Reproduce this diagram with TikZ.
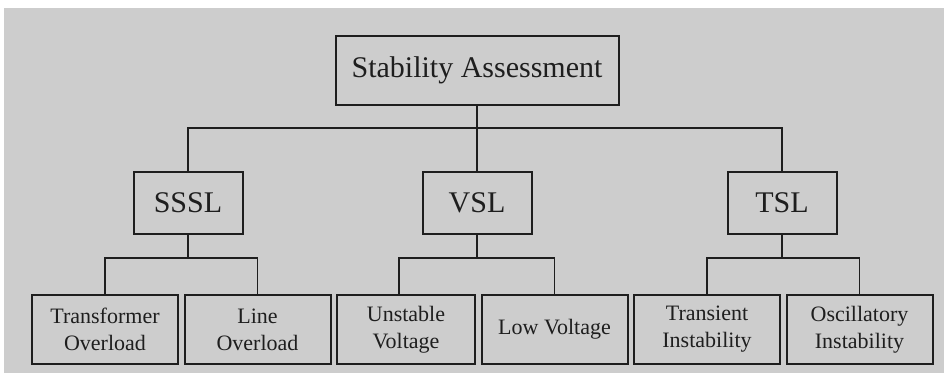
\documentclass[tikz,border=0pt]{standalone}
\usepackage{fontspec}
\setmainfont{Liberation Serif}
\usepackage{tikz}
\usetikzlibrary{positioning}
\definecolor{paper}{HTML}{CDCDCD}
\definecolor{ink}{HTML}{1E1E1E}
\tikzset{
  rootbox/.style={rectangle,draw=ink,line width=2pt,fill=paper,text=ink,align=center,
    font=\fontsize{30}{34}\selectfont,minimum width=283pt,minimum height=69pt,inner sep=0pt},
  catbox/.style={rectangle,draw=ink,line width=2pt,fill=paper,text=ink,align=center,
    font=\fontsize{30}{34}\selectfont,minimum width=109pt,minimum height=62pt,inner sep=0pt},
  leafbox/.style={rectangle,draw=ink,line width=2pt,fill=paper,text=ink,align=center,
    font=\fontsize{22}{27}\selectfont,minimum width=146pt,minimum height=69pt,inner sep=0pt},
  treeline/.style={line width=1.4pt,color=ink},
}

\begin{document}
\begin{tikzpicture}[x=1pt, y=1pt, node distance=4.5pt]
  \fill[paper] (4,-8) rectangle (944,-373);
  \useasboundingbox (0,0) rectangle (948,-373);

  \node[rootbox] (root) at (477,-70.5) {Stability Assessment};
  \node[catbox, below=65pt of root] (vsl) {VSL};
  \node[catbox, left=178pt of vsl] (sssl) {SSSL};
  \node[catbox, right=194pt of vsl] (tsl) {TSL};

  \node[leafbox] (trf) at (105,-329.5) {Transformer\\Overload};
  \node[leafbox, right=of trf] (lnov) {Line\\Overload};
  \node[leafbox, minimum width=138pt, right=of lnov] (unv) {Unstable\\Voltage};
  \node[leafbox, right=of unv] (lowv) {Low Voltage};
  \node[leafbox, right=of lowv] (trn) {Transient\\Instability};
  \node[leafbox, right=of trn] (osc) {Oscillatory\\Instability};

  % top level
  \draw[treeline] (root.south) -- (vsl.north);
  \draw[treeline] (root.south) -- ++(0,-22) -| (sssl.north);
  \draw[treeline] (root.south) -- ++(0,-22) -| (tsl.north);
  % second level
  \draw[treeline] (sssl.south) -- ++(0,-23) -| (trf.north);
  \draw[treeline] (sssl.south) -- ++(0,-23) -| (lnov.north);
  \draw[treeline] (vsl.south) -- ++(0,-23) -| ([xshift=-7pt]unv.north);
  \draw[treeline] (vsl.south) -- ++(0,-23) -| (lowv.north);
  \draw[treeline] (tsl.south) -- ++(0,-23) -| (trn.north);
  \draw[treeline] (tsl.south) -- ++(0,-23) -| (osc.north);
\end{tikzpicture}
\end{document}
